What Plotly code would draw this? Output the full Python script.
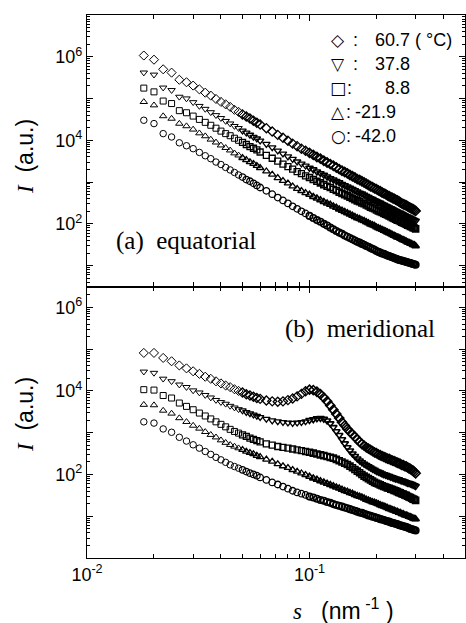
import numpy as np
import plotly.graph_objects as go

# ---------------- data ----------------
s = [0.018, 0.020, 0.022, 0.024, 0.026, 0.028, 0.030, 0.032, 0.034, 0.036, 0.038,
     0.040, 0.042, 0.044, 0.046, 0.048, 0.050, 0.052, 0.054, 0.056, 0.058, 0.060,
     0.064, 0.068, 0.072, 0.076, 0.080, 0.084, 0.088, 0.092, 0.096, 0.100, 0.104,
     0.108, 0.112, 0.116, 0.120, 0.124, 0.128, 0.132, 0.136, 0.140, 0.144, 0.148,
     0.152, 0.156, 0.160, 0.164, 0.168, 0.172, 0.176, 0.180, 0.184, 0.188, 0.192,
     0.196, 0.200, 0.204, 0.208, 0.212, 0.216, 0.220, 0.224, 0.228, 0.232, 0.236,
     0.240, 0.244, 0.248, 0.252, 0.256, 0.260, 0.264, 0.268, 0.272, 0.276, 0.280,
     0.284, 0.288, 0.292, 0.296, 0.300]

temperatures = ["60.7", "37.8", "8.8", "-21.9", "-42.0"]

x_tick_vals = [0.01, 0.1]
x_tick_text = ["10<sup>-2</sup>", "10<sup>-1</sup>"]
y_label_vals = [1e2, 1e4, 1e6]
y_label_text = ["10<sup>2</sup>", "10<sup>4</sup>", "10<sup>6</sup>"]
y_odd_decades = [1e1, 1e3, 1e5, 1e7]

# log10(I) values, equatorial (panel a)
eq_60_7 = [6.03, 5.93, 5.70, 5.62, 5.45, 5.39, 5.31,
           5.22, 5.14, 5.07, 4.99, 4.92, 4.86, 4.80, 4.73, 4.68, 4.62, 4.57, 4.52, 4.47, 4.42, 4.38,
           4.29, 4.21, 4.13, 4.06, 3.99, 3.92, 3.86,
           3.80, 3.75, 3.70, 3.65, 3.60, 3.56, 3.51, 3.47, 3.43, 3.39, 3.35, 3.31, 3.27, 3.24, 3.21,
           3.17, 3.14, 3.11, 3.07, 3.05, 3.02, 2.99, 2.96, 2.93, 2.90, 2.88, 2.85, 2.83, 2.80, 2.78,
           2.75, 2.73, 2.71, 2.68, 2.66, 2.64, 2.62, 2.60, 2.58, 2.56, 2.54, 2.51, 2.49, 2.47, 2.46,
           2.44, 2.42, 2.40, 2.38, 2.37, 2.35, 2.33, 2.31]
eq_37_8 = [5.62, 5.57, 5.26, 5.20, 5.04, 5.00, 4.91,
           4.82, 4.75, 4.67, 4.60, 4.53, 4.46, 4.40, 4.34, 4.29, 4.23, 4.18, 4.13, 4.08, 4.04, 3.99,
           3.91, 3.83, 3.75, 3.68, 3.61, 3.55, 3.49,
           3.44, 3.39, 3.34, 3.30, 3.25, 3.21, 3.17, 3.13, 3.09, 3.06, 3.02, 2.99, 2.95, 2.92, 2.89,
           2.86, 2.83, 2.80, 2.77, 2.74, 2.72, 2.69, 2.66, 2.64, 2.61, 2.59, 2.56, 2.54, 2.52, 2.50,
           2.47, 2.45, 2.43, 2.41, 2.39, 2.37, 2.35, 2.33, 2.31, 2.29, 2.27, 2.26, 2.24, 2.22, 2.20,
           2.18, 2.17, 2.15, 2.14, 2.12, 2.10, 2.09, 2.07]
eq_8_8 = [5.25, 5.16, 4.94, 4.88, 4.71, 4.66, 4.58,
          4.50, 4.43, 4.36, 4.29, 4.22, 4.16, 4.11, 4.05, 4.00, 3.95, 3.90, 3.85, 3.81, 3.77, 3.72,
          3.64, 3.57, 3.50, 3.43, 3.37, 3.31, 3.25,
          3.20, 3.15, 3.11, 3.06, 3.02, 2.98, 2.94, 2.90, 2.87, 2.83, 2.80, 2.76, 2.73, 2.70, 2.67,
          2.64, 2.61, 2.58, 2.55, 2.53, 2.50, 2.48, 2.45, 2.43, 2.40, 2.38, 2.36, 2.33, 2.31, 2.29,
          2.27, 2.25, 2.23, 2.21, 2.19, 2.17, 2.15, 2.13, 2.11, 2.09, 2.08, 2.06, 2.04, 2.02, 2.01,
          1.99, 1.97, 1.96, 1.94, 1.93, 1.91, 1.90, 1.88]
eq_m21_9 = [4.92, 4.84, 4.58, 4.52, 4.40, 4.34, 4.26,
            4.17, 4.10, 4.02, 3.95, 3.88, 3.82, 3.76, 3.69, 3.64, 3.58, 3.53, 3.48, 3.44, 3.39, 3.34,
            3.26, 3.18, 3.10, 3.03, 2.97, 2.90, 2.84,
            2.79, 2.74, 2.70, 2.65, 2.61, 2.57, 2.53, 2.49, 2.46, 2.42, 2.39, 2.35, 2.32, 2.29, 2.26,
            2.23, 2.20, 2.17, 2.14, 2.12, 2.09, 2.07, 2.04, 2.02, 1.99, 1.97, 1.95, 1.92, 1.90, 1.88,
            1.86, 1.84, 1.82, 1.80, 1.78, 1.76, 1.74, 1.72, 1.70, 1.68, 1.67, 1.65, 1.63, 1.61, 1.60,
            1.58, 1.56, 1.55, 1.53, 1.52, 1.50, 1.49, 1.47]
eq_m42_0 = [4.48, 4.40, 4.16, 4.08, 3.94, 3.87, 3.80,
            3.71, 3.63, 3.56, 3.48, 3.42, 3.35, 3.29, 3.23, 3.17, 3.12, 3.06, 3.02, 2.97, 2.92, 2.87,
            2.79, 2.71, 2.63, 2.56, 2.49, 2.42, 2.36,
            2.30, 2.25, 2.19, 2.14, 2.09, 2.05, 2.00, 1.96, 1.91, 1.87, 1.83, 1.79, 1.76, 1.72, 1.69,
            1.66, 1.63, 1.60, 1.57, 1.55, 1.52, 1.50, 1.47, 1.45, 1.42, 1.40, 1.38, 1.35, 1.33, 1.31,
            1.29, 1.28, 1.26, 1.24, 1.23, 1.21, 1.20, 1.18, 1.17, 1.15, 1.14, 1.13, 1.12, 1.11, 1.10,
            1.09, 1.08, 1.07, 1.06, 1.05, 1.04, 1.03, 1.02]

# log10(I) values, meridional (panel b)
mer_60_7 = [4.91, 4.91, 4.79, 4.71, 4.61, 4.54, 4.47, 4.41, 4.34,
            4.29, 4.23, 4.18, 4.13, 4.09, 4.04, 4.00, 3.96, 3.92, 3.89, 3.86, 3.83, 3.81,
            3.77, 3.75, 3.74, 3.75, 3.78, 3.82, 3.87,
            3.93, 3.99, 4.03, 4.02, 3.98, 3.92, 3.84, 3.75, 3.65, 3.55, 3.45, 3.35, 3.25, 3.17, 3.09,
            3.02, 2.96, 2.90, 2.84, 2.78, 2.73, 2.69, 2.65, 2.62, 2.59, 2.56, 2.53, 2.51, 2.48, 2.46,
            2.44, 2.42, 2.40, 2.38, 2.37, 2.35, 2.33, 2.32, 2.30, 2.28, 2.27, 2.25, 2.23, 2.22, 2.20,
            2.19, 2.17, 2.15, 2.13, 2.11, 2.09, 2.06, 2.03]
mer_37_8 = [4.46, 4.43, 4.29, 4.23, 4.15, 4.09,
            4.01, 3.96, 3.90, 3.84, 3.78, 3.73, 3.69, 3.64, 3.60, 3.56, 3.53, 3.49, 3.46, 3.43, 3.40,
            3.37, 3.33, 3.29, 3.27, 3.25, 3.24, 3.23, 3.24,
            3.25, 3.27, 3.30, 3.32, 3.34, 3.35, 3.33, 3.29, 3.22, 3.13, 3.03, 2.94, 2.84, 2.74, 2.65,
            2.57, 2.50, 2.44, 2.38, 2.33, 2.29, 2.25, 2.22, 2.19, 2.16, 2.13, 2.11, 2.08, 2.06, 2.04,
            2.02, 2.00, 1.99, 1.97, 1.96, 1.94, 1.93, 1.91, 1.90, 1.89, 1.88, 1.86, 1.85, 1.84, 1.83,
            1.81, 1.80, 1.79, 1.78, 1.77, 1.75, 1.74, 1.72]
mer_8_8 = [4.03, 4.02, 3.89, 3.83, 3.71,
           3.63, 3.55, 3.47, 3.40, 3.33, 3.26, 3.20, 3.14, 3.08, 3.03, 2.99, 2.95, 2.91, 2.87, 2.84,
           2.81, 2.78, 2.73, 2.70, 2.67, 2.65, 2.63, 2.61, 2.59,
           2.57, 2.55, 2.53, 2.51, 2.49, 2.47, 2.45, 2.43, 2.41, 2.39, 2.36, 2.33, 2.30, 2.27, 2.24,
           2.20, 2.16, 2.12, 2.08, 2.04, 2.00, 1.96, 1.93, 1.90, 1.87, 1.84, 1.81, 1.79, 1.77, 1.75,
           1.73, 1.71, 1.70, 1.68, 1.67, 1.65, 1.64, 1.62, 1.61, 1.59, 1.57, 1.56, 1.54, 1.53, 1.51,
           1.50, 1.48, 1.46, 1.45, 1.43, 1.41, 1.40, 1.38]
mer_m21_9 = [3.67, 3.66, 3.53, 3.46, 3.35,
             3.26, 3.17, 3.10, 3.02, 2.95, 2.89, 2.82, 2.76, 2.71,
             2.67, 2.63, 2.59, 2.55, 2.52, 2.49, 2.45, 2.42, 2.36, 2.31, 2.25, 2.20, 2.16, 2.11, 2.07,
             2.03, 1.99, 1.95, 1.91, 1.88, 1.84, 1.81, 1.78, 1.75, 1.72, 1.69, 1.67, 1.64, 1.61, 1.59,
             1.56, 1.54, 1.51, 1.49, 1.47, 1.45, 1.43, 1.40, 1.38, 1.36, 1.34, 1.33, 1.31, 1.29, 1.27,
             1.25, 1.24, 1.22, 1.20, 1.18, 1.17, 1.15, 1.14, 1.12, 1.11, 1.09, 1.08, 1.06, 1.05, 1.03,
             1.02, 1.01, 0.99, 0.98, 0.97, 0.95, 0.94, 0.93]
mer_m42_0 = [3.26, 3.23, 3.09, 3.01, 2.89,
             2.80, 2.71, 2.63, 2.55, 2.48, 2.41, 2.35, 2.29, 2.23,
             2.19, 2.15, 2.11, 2.07, 2.03, 2.00, 1.97, 1.93, 1.87, 1.81, 1.76, 1.71, 1.66, 1.61, 1.57,
             1.54, 1.51, 1.47, 1.45, 1.42, 1.39, 1.37, 1.34, 1.32, 1.29, 1.27, 1.25, 1.23, 1.21, 1.19,
             1.17, 1.15, 1.13, 1.11, 1.09, 1.08, 1.06, 1.04, 1.02, 1.01, 0.99, 0.98, 0.96, 0.95, 0.93,
             0.92, 0.91, 0.89, 0.88, 0.87, 0.85, 0.84, 0.83, 0.82, 0.81, 0.79, 0.78, 0.77, 0.76, 0.75,
             0.74, 0.73, 0.71, 0.70, 0.69, 0.68, 0.67, 0.66]

equatorial = [eq_60_7, eq_37_8, eq_8_8, eq_m21_9, eq_m42_0]
meridional = [mer_60_7, mer_37_8, mer_8_8, mer_m21_9, mer_m42_0]

# ---------------- styling ----------------
symbols = ["diamond-open", "triangle-down-open", "square-open", "triangle-up-open", "circle-open"]
msizes = [7, 6.5, 6, 6.5, 6.5]
legend_glyphs = ["\u25C7", "\u25BD", "\u25A1", "\u25B3", "\u25CB"]
# heavier outlines where the reference's points crowd into solid bands
line_w = [1.0 if v < 0.05 else (1.3 if v < 0.1 else 1.6) for v in s]

W, H = 466, 623
ML, MR, MT, MB = 87, 1, 15, 65
TOP_RANGE = [0.5, 7]
BOT_RANGE = [0, 6.5]
X_RANGE = [-2, np.log10(0.5)]


def px(xp):
    return (xp - ML) / (W - ML - MR)


def py(yp):
    return (H - MB - yp) / (H - MT - MB)


fig = go.Figure()
for vals, sym, ms in zip(equatorial, symbols, msizes):
    fig.add_trace(go.Scatter(x=s, y=np.power(10.0, vals), mode="markers", xaxis="x", yaxis="y",
                             marker=dict(symbol=sym, size=ms, color="black",
                                         line=dict(width=line_w, color="black")),
                             showlegend=False, hoverinfo="skip"))
for vals, sym, ms in zip(meridional, symbols, msizes):
    fig.add_trace(go.Scatter(x=s, y=np.power(10.0, vals), mode="markers", xaxis="x2", yaxis="y2",
                             marker=dict(symbol=sym, size=ms, color="black",
                                         line=dict(width=line_w, color="black")),
                             showlegend=False, hoverinfo="skip"))
# empty traces so the overlay axes (odd-decade ticks) are drawn
fig.add_trace(go.Scatter(x=[], y=[], xaxis="x", yaxis="y3", showlegend=False, hoverinfo="skip"))
fig.add_trace(go.Scatter(x=[], y=[], xaxis="x2", yaxis="y4", showlegend=False, hoverinfo="skip"))

tick_font = dict(family="Liberation Sans, Arial, sans-serif", size=18, color="black")
x_minor = [k * 10.0 ** d for d in (-2, -1) for k in range(2, 10) if k * 10.0 ** d < 0.5]
y_minor = [k * 10.0 ** d for d in range(0, 7) for k in range(2, 10)]

common_x = dict(type="log", range=X_RANGE, showline=True, linecolor="black",
                linewidth=1.3, mirror="ticks", ticks="inside", ticklen=6, tickwidth=1,
                tickcolor="black", showgrid=False, zeroline=False, automargin=False,
                tickmode="array", tickvals=x_tick_vals, ticktext=x_tick_text,
                tickfont=tick_font,
                minor=dict(tickmode="array", tickvals=x_minor, ticks="inside", ticklen=4,
                           tickcolor="black", tickwidth=1, showgrid=False))
common_y = dict(type="log", showline=True, linecolor="black", linewidth=1.3, mirror="ticks",
                ticks="inside", ticklen=6, tickwidth=1, tickcolor="black", showgrid=False,
                zeroline=False, automargin=False, tickmode="array", tickvals=y_label_vals,
                ticktext=y_label_text, tickfont=tick_font,
                minor=dict(tickmode="array", tickvals=y_minor, ticks="inside", ticklen=3,
                           tickcolor="black", tickwidth=1, showgrid=False))
odd_y = dict(type="log", showline=False, mirror="ticks", ticks="inside", ticklen=6,
             tickwidth=1, tickcolor="black", showgrid=False, zeroline=False, automargin=False,
             tickmode="array", tickvals=y_odd_decades, showticklabels=False, side="left")

fig.update_layout(
    width=W, height=H,
    margin=dict(l=ML, r=MR, t=MT, b=MB, pad=0),
    paper_bgcolor="white", plot_bgcolor="white",
    hovermode=False,
    xaxis=dict(common_x, domain=[0, 1], anchor="y", showticklabels=False),
    xaxis2=dict(common_x, domain=[0, 1], anchor="y2", showticklabels=True),
    yaxis=dict(common_y, domain=[0.5, 1], anchor="x", range=TOP_RANGE),
    yaxis2=dict(common_y, domain=[0, 0.5], anchor="x2", range=BOT_RANGE),
    yaxis3=dict(odd_y, domain=[0.5, 1], anchor="x", overlaying="y", range=TOP_RANGE),
    yaxis4=dict(odd_y, domain=[0, 0.5], anchor="x2", overlaying="y2", range=BOT_RANGE),
)

ann = []
serif = "Liberation Serif, Times New Roman, serif"
sans = "Liberation Sans, Arial, sans-serif"
# y-axis titles
for yc in (157, 415):
    ann.append(dict(xref="paper", yref="paper", x=px(25), y=py(yc), xanchor="center",
                    yanchor="middle", textangle=-90, showarrow=False,
                    text='<span style="font-family:Liberation Serif"><i>I</i></span>\u00a0\u00a0(a.u.)',
                    font=dict(family=sans, size=23, color="black")))
# x-axis title
ann.append(dict(xref="paper", yref="paper", x=px(343), y=py(609), xanchor="center",
                yanchor="middle", showarrow=False,
                text='<span style="font-family:Liberation Serif"><i>s</i></span>\u00a0\u00a0\u00a0(nm<sup>\u00a0-1</sup>\u00a0)',
                font=dict(family=sans, size=23, color="black")))
# panel labels
ann.append(dict(xref="paper", yref="paper", x=px(186), y=py(241), xanchor="center",
                yanchor="middle", showarrow=False, text="(a)\u00a0\u00a0equatorial",
                font=dict(family=serif, size=25, color="black")))
ann.append(dict(xref="paper", yref="paper", x=px(360), y=py(329), xanchor="center",
                yanchor="middle", showarrow=False, text="(b)\u00a0\u00a0meridional",
                font=dict(family=serif, size=25, color="black")))
# legend (as text)
rows = [39.5, 63.5, 87.5, 111.5, 135.5]
colon_x = [355, 355, 349, 348, 348]
num_x = [373, 373, 383, 353, 353]
labels = [temperatures[0] + "\u00a0(\u00a0\u00b0C)"] + temperatures[1:]
for g, yr, cx, nx, lab in zip(legend_glyphs, rows, colon_x, num_x, labels):
    ann.append(dict(xref="paper", yref="paper", x=px(338), y=py(yr), xanchor="center",
                    yanchor="middle", showarrow=False, text=g,
                    font=dict(family="DejaVu Sans", size=17, color="black")))
    ann.append(dict(xref="paper", yref="paper", x=px(cx), y=py(yr), xanchor="center",
                    yanchor="middle", showarrow=False, text=":",
                    font=dict(family=sans, size=18, color="black")))
    ann.append(dict(xref="paper", yref="paper", x=px(nx), y=py(yr), xanchor="left",
                    yanchor="middle", showarrow=False, text=lab,
                    font=dict(family=sans, size=18, color="black")))
fig.update_layout(annotations=ann)

fig.write_html("out.html", config={"displayModeBar": False},
               post_script="document.body.style.margin='0px';")
